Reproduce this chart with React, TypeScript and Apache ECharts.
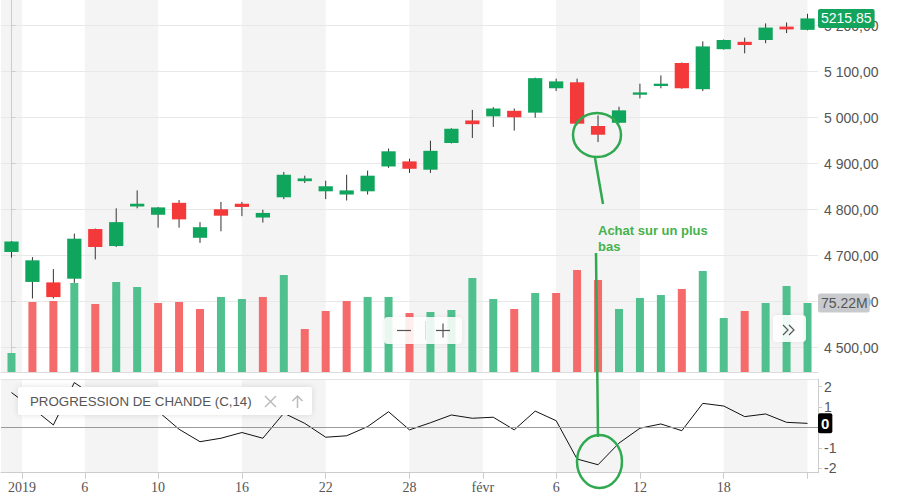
import React, { useEffect, useRef } from 'react';
import * as echarts from 'echarts';

// ---- data (CAC 40, daily, 31 Dec 2018 -> 22 Feb 2019) ----
const opens = [4708, 4643, 4642, 4650, 4758, 4721, 4807, 4789, 4815, 4739, 4801, 4813, 4783, 4827, 4862, 4840, 4833, 4840, 4894, 4905, 4887, 4945, 4994, 5003, 5015, 5011, 5064, 5077, 4982, 4989, 5050, 5069, 5119, 5062, 5149, 5165, 5169, 5198, 5191];
const closes = [4731, 4690, 4610, 4737, 4719, 4773, 4813, 4805, 4779, 4762, 4787, 4806, 4793, 4876, 4868, 4851, 4842, 4874, 4927, 4889, 4928, 4976, 4986, 5020, 5001, 5086, 5079, 4987, 4963, 5016, 5055, 5074, 5064, 5155, 5169, 5158, 5196, 5192, 5215.85];
const lows = [4696, 4607, 4607, 4641, 4692, 4719, 4803, 4761, 4761, 4728, 4753, 4786, 4772, 4823, 4858, 4823, 4820, 4833, 4891, 4880, 4880, 4944, 4956, 4980, 4972, 5000, 5058, 4985, 4947, 4988, 5042, 5064, 5063, 5058, 5148, 5140, 5162, 5184, 5190];
const highs = [4732, 4697, 4671, 4748, 4759, 4803, 4842, 4806, 4821, 4773, 4817, 4817, 4800, 4882, 4874, 4863, 4876, 4885, 4933, 4911, 4950, 4977, 5017, 5023, 5020, 5087, 5085, 5085, 5005, 5024, 5074, 5092, 5120, 5166, 5170, 5174, 5205, 5207, 5226];
const volumes = [20.7, 76.3, 77.4, 97.0, 74.1, 98.1, 92.7, 75.2, 76.3, 68.7, 81.8, 79.6, 81.8, 105.7, 46.9, 66.5, 77.4, 81.8, 81.8, 64.3, 65.4, 67.6, 102.5, 79.6, 68.7, 86.1, 86.1, 111.2, 100.3, 68.7, 80.7, 83.9, 90.5, 110.1, 58.9, 66.5, 75.2, 93.7, 75.22];
const volumeUp = [1, 0, 0, 1, 0, 1, 1, 0, 0, 0, 1, 1, 0, 1, 0, 0, 0, 1, 1, 0, 1, 1, 1, 1, 0, 1, 0, 0, 0, 1, 1, 1, 0, 1, 1, 0, 1, 1, 1];
const chande = [1.71, 0.95, 0.12, 2.2, 1.5, 1.7, 1.4, 0.79, -0.09, -0.7, -0.53, -0.25, -0.53, 0.7, 0.2, -0.48, -0.41, 0.04, 0.77, -0.12, 0.23, 0.61, 0.45, 0.5, -0.12, 0.8, 0.33, -1.55, -1.83, -0.77, -0.04, 0.17, -0.16, 1.18, 1.05, 0.53, 0.66, 0.25, 0.2];

const tickPositions = [0.5, 3.5, 7, 11, 15, 19, 22.5, 26, 30, 34, 38];
const tickLabels = ['2019', '6', '10', '16', '22', '28', 'févr', '6', '12', '18', ''];
const priceTicks = [4500, 4600, 4700, 4800, 4900, 5000, 5100, 5200];
const oscTicks = [-2, -1, 0, 1, 2];
const oscLabels = [-2, -1, 1, 2];
const lastPrice = 5215.85;
const lastVolume = 75.22;
const legendTitle = 'PROGRESSION DE CHANDE (C,14)';
const noteLines = ['Achat sur un plus', 'bas'];

const UP = '#10a55c';
const DOWN = '#f3393a';
const VOL_UP = '#4fc08e';
const VOL_DOWN = '#f56b6b';
const BAND = '#f4f4f4';
const NOTE = '#2fa84f';
const SANS = 'Liberation Sans, Arial, sans-serif';
const HIDDEN_LINE = { color: 'rgba(0,0,0,0)', width: 0 };

function fmtPrice(v: number) {
  const th = Math.floor(v / 1000);
  const rest = String(Math.round(v % 1000)).padStart(3, '0');
  return `${th} ${rest},00`;
}

export default function App() {
  const ref = useRef<HTMLDivElement>(null);
  useEffect(() => {
    document.body.style.margin = '0';
    const chart = echarts.init(ref.current!, null, { renderer: 'svg' });
    const n = opens.length;
    const xMin = -0.5;
    const xMax = n - 0.5;
    const edges = [xMin, ...tickPositions, xMax];
    const bands: number[][] = [];
    for (let k = 0; k < edges.length - 1; k += 2) bands.push([edges[k], edges[k + 1]]);

    const candleData = opens.map((o, i) => [i, o, closes[i], lows[i], highs[i]]);
    const volData = volumes.map((v, i) => [i, v]);
    const oscData = chande.map((v, i) => [i, v]);
    const lastOsc = chande[chande.length - 1];

    const bandRender = (yVal: number) => (params: any, api: any) => {
      const x0 = api.coord([api.value(0), yVal])[0];
      const x1 = api.coord([api.value(1), yVal])[0];
      const cs = params.coordSys;
      return { type: 'rect', shape: { x: x0, y: cs.y, width: x1 - x0, height: cs.height }, style: { fill: BAND } };
    };

    const option: any = {
      animation: false,
      backgroundColor: '#ffffff',
      grid: [
        { left: 1, top: 0, width: 817, height: 372 },
        { left: 1, top: 379.3, width: 817, height: 93.4 },
      ],
      xAxis: [
        { type: 'value', gridIndex: 0, min: xMin, max: xMax, axisLine: { show: true, lineStyle: { color: '#dcdcdc' } }, axisTick: { show: false }, axisLabel: { show: false }, splitLine: { show: false } },
        {
          type: 'value', gridIndex: 1, min: xMin, max: xMax,
          axisLine: { show: true, onZero: false, lineStyle: { color: '#cccccc' } },
          axisTick: { show: true, customValues: tickPositions, length: 6, lineStyle: { color: '#cccccc' } },
          axisLabel: {
            customValues: tickPositions, margin: 8, color: '#555', fontSize: 14, fontFamily: 'Liberation Serif, Times New Roman, serif',
            formatter: (v: number) => { const k = tickPositions.findIndex((p) => Math.abs(p - v) < 1e-6); return k >= 0 ? tickLabels[k] : ''; },
          },
          splitLine: { show: false },
        },
        { type: 'value', gridIndex: 1, position: 'top', min: xMin, max: xMax, axisLine: { show: true, onZero: false, lineStyle: { color: '#e4e4e4' } }, axisTick: { show: false }, axisLabel: { show: false }, splitLine: { show: false } },
      ],
      yAxis: [
        {
          type: 'value', gridIndex: 0, position: 'right', min: 4447.2, max: 5255.9, z: 1,
          axisLine: { show: true, lineStyle: { color: '#cccccc' } },
          axisTick: { show: true, customValues: priceTicks, length: 4, lineStyle: { color: '#cccccc' } },
          axisLabel: { customValues: priceTicks, margin: 6, color: '#555', fontSize: 14, fontFamily: SANS, formatter: (v: number) => fmtPrice(v) },
          splitLine: { show: true, lineStyle: { color: '#e8e8e8' } },
        },
        { type: 'value', gridIndex: 0, min: 0, max: 405.5, show: false, splitLine: { show: false } },
        {
          type: 'value', gridIndex: 1, position: 'right', min: -2.22, max: 2.36, z: 1,
          axisLine: { show: true, onZero: false, lineStyle: { color: '#cccccc' } },
          axisTick: { show: true, customValues: oscTicks, length: 4, lineStyle: { color: '#cccccc' } },
          axisLabel: { customValues: oscLabels, margin: 6, color: '#555', fontSize: 14, fontFamily: SANS },
          splitLine: { show: false },
        },
      ],
      series: [
        { type: 'custom', name: 'bands0', xAxisIndex: 0, yAxisIndex: 0, z: -1, silent: true, data: bands, encode: { x: [0, 1] }, renderItem: bandRender(5000) },
        { type: 'custom', name: 'bands1', xAxisIndex: 1, yAxisIndex: 2, z: -1, silent: true, data: bands, encode: { x: [0, 1] }, renderItem: bandRender(0) },
        {
          type: 'bar', name: 'Volume', xAxisIndex: 0, yAxisIndex: 1, barWidth: 8, z: 2, data: volData,
          itemStyle: { color: (p: any) => (volumeUp[p.dataIndex] ? VOL_UP : VOL_DOWN) },
          markLine: {
            silent: true, z: 10, symbol: ['none', 'none'], lineStyle: HIDDEN_LINE,
            label: { show: true, position: 'end', distance: 0, formatter: `${lastVolume.toFixed(2)}M`, color: '#555', backgroundColor: '#c8cace', padding: [3, 2, 2, 3], borderRadius: 2, fontSize: 14, fontFamily: SANS, opacity: 1 },
            data: [{ yAxis: lastVolume }],
          },
        },
        {
          type: 'custom', name: 'CAC 40', xAxisIndex: 0, yAxisIndex: 0, z: 3, data: candleData,
          encode: { x: 0, y: [1, 2, 3, 4] },
          renderItem: (params: any, api: any) => {
            const i = api.value(0);
            const o = api.value(1), c = api.value(2), l = api.value(3), h = api.value(4);
            const top = api.coord([i, h]);
            const bot = api.coord([i, l]);
            const po = api.coord([i, o]);
            const pc = api.coord([i, c]);
            const w = api.size([1, 0])[0] * 0.68;
            const y0 = Math.min(po[1], pc[1]);
            const hh = Math.max(Math.abs(po[1] - pc[1]), 1.5);
            return {
              type: 'group',
              children: [
                { type: 'line', shape: { x1: top[0], y1: top[1], x2: bot[0], y2: bot[1] }, style: { stroke: '#333', lineWidth: 1 } },
                { type: 'rect', shape: { x: po[0] - w / 2, y: y0, width: w, height: hh }, style: { fill: c >= o ? UP : DOWN } },
              ],
            };
          },
        },
        {
          type: 'line', name: 'lastPrice', xAxisIndex: 0, yAxisIndex: 0, data: [], z: 10, silent: true,
          markLine: {
            silent: true, z: 10, symbol: ['none', 'none'], lineStyle: HIDDEN_LINE,
            label: { show: true, position: 'end', distance: 0, formatter: lastPrice.toFixed(2), color: '#fff', backgroundColor: '#12a35c', padding: [3, 3, 2, 3], borderRadius: 2, fontSize: 14, fontFamily: SANS, opacity: 1 },
            data: [{ yAxis: lastPrice }],
          },
        },
        {
          type: 'line', name: 'Chande', xAxisIndex: 1, yAxisIndex: 2, z: 3, data: oscData, showSymbol: false, symbol: 'none',
          lineStyle: { color: '#111', width: 1 },
          markLine: {
            silent: true, z: 10, symbol: ['none', 'none'],
            data: [
              { yAxis: 0, lineStyle: { color: '#9a9a9a', width: 1, type: 'solid' }, label: { show: false } },
              {
                yAxis: lastOsc, lineStyle: HIDDEN_LINE,
                label: { show: true, position: 'end', distance: 0, formatter: String(Math.round(lastOsc)), color: '#fff', backgroundColor: '#000', padding: [3, 3, 2, 3], borderRadius: 2, fontSize: 15, fontWeight: 'bold', fontFamily: SANS, opacity: 1 },
              },
            ],
          },
        },
      ],
      graphic: [
        // legend box of the indicator
        { type: 'rect', z: 50, shape: { x: 18, y: 387, width: 294, height: 28, r: 3 }, style: { fill: '#fff', shadowBlur: 6, shadowColor: 'rgba(0,0,0,0.12)' } },
        { type: 'text', z: 51, x: 30, y: 401, style: { text: legendTitle, fill: '#555', fontSize: 13.3, fontFamily: SANS, verticalAlign: 'middle' } },
        { type: 'line', z: 51, shape: { x1: 265, y1: 396, x2: 276, y2: 407 }, style: { stroke: '#bbb', lineWidth: 1.5 } },
        { type: 'line', z: 51, shape: { x1: 276, y1: 396, x2: 265, y2: 407 }, style: { stroke: '#bbb', lineWidth: 1.5 } },
        { type: 'line', z: 51, shape: { x1: 297.5, y1: 396, x2: 297.5, y2: 408 }, style: { stroke: '#bbb', lineWidth: 1.5 } },
        { type: 'polyline', z: 51, shape: { points: [[292.5, 401], [297.5, 396], [302.5, 401]] }, style: { stroke: '#bbb', lineWidth: 1.5, fill: 'none' } },
        // zoom controls
        { type: 'rect', z: 50, shape: { x: 384, y: 317, width: 78, height: 27, r: 4 }, style: { fill: 'rgba(255,255,255,0.88)', shadowBlur: 4, shadowColor: 'rgba(0,0,0,0.08)' } },
        { type: 'line', z: 51, shape: { x1: 397, y1: 330.5, x2: 411, y2: 330.5 }, style: { stroke: '#555', lineWidth: 1.2 } },
        { type: 'line', z: 51, shape: { x1: 425.5, y1: 321, x2: 425.5, y2: 340 }, style: { stroke: '#ddd', lineWidth: 1 } },
        { type: 'line', z: 51, shape: { x1: 436, y1: 330.5, x2: 450, y2: 330.5 }, style: { stroke: '#555', lineWidth: 1.2 } },
        { type: 'line', z: 51, shape: { x1: 443, y1: 323.5, x2: 443, y2: 337.5 }, style: { stroke: '#555', lineWidth: 1.2 } },
        { type: 'rect', z: 50, shape: { x: 773, y: 315, width: 33, height: 27, r: 4 }, style: { fill: 'rgba(255,255,255,0.9)', shadowBlur: 4, shadowColor: 'rgba(0,0,0,0.08)' } },
        { type: 'polyline', z: 51, shape: { points: [[783, 325], [788, 330], [783, 335]] }, style: { stroke: '#555', lineWidth: 1.2, fill: 'none' } },
        { type: 'polyline', z: 51, shape: { points: [[789, 325], [794, 330], [789, 335]] }, style: { stroke: '#555', lineWidth: 1.2, fill: 'none' } },
        // hand-drawn annotation
        { type: 'ellipse', z: 60, shape: { cx: 597, cy: 135, rx: 24, ry: 22 }, style: { stroke: NOTE, lineWidth: 2.5, fill: 'none' } },
        { type: 'line', z: 60, shape: { x1: 595, y1: 158, x2: 603, y2: 204 }, style: { stroke: NOTE, lineWidth: 2.5 } },
        { type: 'text', z: 60, x: 598, y: 222, style: { text: noteLines.join('\n'), fill: '#45b24c', fontSize: 13, fontWeight: 'bold', fontFamily: SANS, lineHeight: 16 } },
        { type: 'line', z: 60, shape: { x1: 596, y1: 253, x2: 598, y2: 437 }, style: { stroke: NOTE, lineWidth: 2.5 } },
        { type: 'ellipse', z: 60, shape: { cx: 599.5, cy: 461.5, rx: 22.5, ry: 26.5 }, style: { stroke: NOTE, lineWidth: 2.5, fill: 'none' } },
      ],
    };
    chart.setOption(option);
    return () => chart.dispose();
  }, []);
  return <div ref={ref} style={{ width: 916, height: 503 }} />;
}
